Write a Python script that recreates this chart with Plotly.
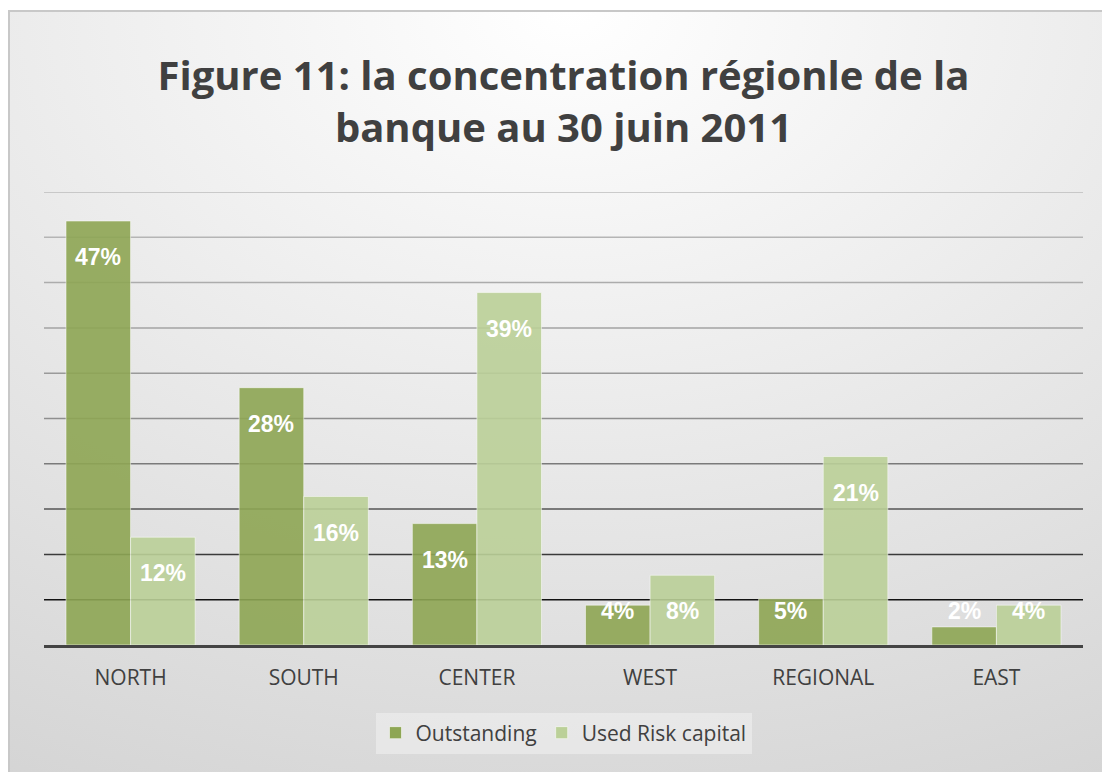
import base64
import plotly.graph_objects as go

# ---------------- data ----------------
regions = ["NORTH", "SOUTH", "CENTER", "WEST", "REGIONAL", "EAST"]
outstanding = [46.8, 28.4, 13.4, 4.4, 5.1, 2.0]
used_risk_capital = [11.9, 16.4, 38.9, 7.7, 20.8, 4.4]
series_names = ["Outstanding", "Used Risk capital"]
grid_values = [5, 10, 15, 20, 25, 30, 35, 40, 45, 50]
title_text = "Figure 11: la concentration régionle de la<br>banque au 30 juin 2011"

# ---------------- style ----------------
W, H = 1102, 772
ML, MR, MT, MB = 44, 19, 192, 127
PW, PH = W - ML - MR, H - MT - MB
BARGAP = 0.254
grid_colors = ["#121212", "#3a3a3a", "#555555", "#7a7a7a", "#8f8f8f",
               "#9a9a9a", "#a3a3a3", "#acacac", "#b5b5b5", "#bdbdbd"]
dark_green = "#8ea654"
light_green = "#bbd098"

svg = f"""<svg xmlns='http://www.w3.org/2000/svg' width='{W}' height='{H}'>
<defs><radialGradient id='g' cx='0.5' cy='0' r='1.1' fx='0.5' fy='0'>
<stop offset='0' stop-color='#ffffff'/><stop offset='1' stop-color='#d4d4d4'/>
</radialGradient></defs>
<rect x='0' y='0' width='{W}' height='{H}' fill='#ffffff'/>
<rect x='9' y='11' width='{W + 20}' height='{H + 20}' fill='url(#g)' stroke='#c8c8c8' stroke-width='2'/>
</svg>"""
bg_uri = "data:image/svg+xml;base64," + base64.b64encode(svg.encode()).decode()

fig = go.Figure()
for name, vals, col in [(series_names[0], outstanding, dark_green),
                        (series_names[1], used_risk_capital, light_green)]:
    fig.add_trace(go.Bar(
        x=regions, y=vals, name=name,
        marker=dict(color=col, opacity=0.9,
                    line=dict(color="rgba(255,255,255,0.55)", width=1)),
        hoverinfo="x+y",
    ))

# data labels
bar_w = PW / len(regions) * (1 - BARGAP) / 2
for si, vals in enumerate([outstanding, used_risk_capital]):
    shift = (-0.5 if si == 0 else 0.5) * bar_w
    for r, v in zip(regions, vals):
        fig.add_annotation(
            x=r, y=max(v - 4.0, 3.8), xref="x", yref="y",
            text=f"{round(v)}%", showarrow=False, xshift=shift,
            yanchor="middle", xanchor="center",
            font=dict(family="Liberation Sans", size=23, color="white", weight="bold"),
        )

# gridlines (colour fades from black near the base to light grey at top)
for gv, gc in zip(grid_values, grid_colors):
    fig.add_shape(type="line", xref="paper", x0=0, x1=1, yref="y", y0=gv, y1=gv,
                  line=dict(color=gc, width=1.5), layer="below")

fig.add_layout_image(dict(
    source=bg_uri, xref="paper", yref="paper",
    x=-ML / PW, y=1 + MT / PH, sizex=W / PW, sizey=H / PH,
    xanchor="left", yanchor="top", sizing="stretch", layer="below",
))

fig.update_layout(
    width=W, height=H,
    margin=dict(l=ML, r=MR, t=MT, b=MB),
    paper_bgcolor="white", plot_bgcolor="rgba(0,0,0,0)",
    barmode="group", bargap=BARGAP, bargroupgap=0,
    title=dict(text=title_text, x=0.5, xanchor="center", xref="paper",
               y=1 - 90 / H, yanchor="middle",
               font=dict(family="Open Sans", size=40, color="#404040", weight="bold")),
    xaxis=dict(showgrid=False, showline=True, linecolor="#444444", linewidth=3,
               ticks="", ticklabelstandoff=12,
               tickfont=dict(family="Open Sans", size=21, color="#404040")),
    yaxis=dict(range=[0, 50], showgrid=False, showticklabels=False, zeroline=False,
               fixedrange=True),
    legend=dict(orientation="h", x=0.5, xanchor="center", y=-(733 - 645) / PH,
                yanchor="middle", bgcolor="rgba(255,255,255,0.35)",
                font=dict(family="Open Sans", size=21, color="#404040"),
                itemwidth=30, traceorder="normal"),
    showlegend=True,
)

fig.write_html(
    "out.html",
    config={"displayModeBar": False},
    post_script="document.body.style.margin='0';document.body.style.overflow='hidden';",
)
